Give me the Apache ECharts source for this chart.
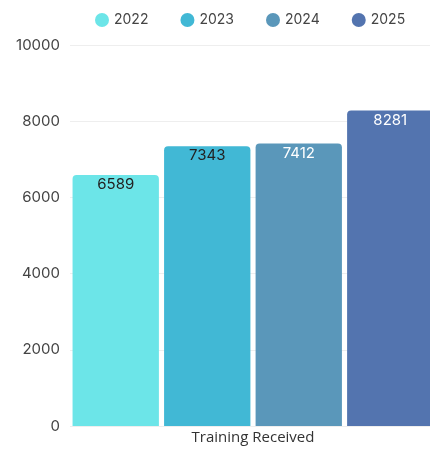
<!DOCTYPE html>
<html>
<head>
<meta charset="utf-8">
<script src="https://cdn.jsdelivr.net/npm/echarts@6/dist/echarts.min.js"></script>
<style>
  html, body { margin: 0; padding: 0; background: #fff; overflow: hidden; }
  #chart { width: 430px; height: 449px; }
</style>
</head>
<body>
<div id="chart"></div>
<script>
const categories = ['Training Received'];
const years = ['2022', '2023', '2024', '2025'];
const values2022 = [6589];
const values2023 = [7343];
const values2024 = [7412];
const values2025 = [8281];
const yTicks = [0, 2000, 4000, 6000, 8000, 10000];

const seriesValues = [values2022, values2023, values2024, values2025];
const colors = ['#6ce5e8', '#41b8d5', '#5a97ba', '#5374af'];
const labelColors = ['#222', '#222', '#fff', '#fff'];

const chart = echarts.init(document.getElementById('chart'));
chart.setOption({
  animation: false,
  color: colors,
  legend: {
    top: 8,
    left: 90,
    itemGap: 32,
    icon: 'circle',
    itemWidth: 14,
    itemHeight: 14,
    textStyle: { fontFamily: 'Inter', fontSize: 14, color: '#444' },
    data: years
  },
  grid: {
    left: 70,
    width: 366,
    top: 45,
    bottom: 23,
    containLabel: false,
    outerBoundsMode: 'none'
  },
  xAxis: {
    type: 'category',
    data: categories,
    axisLine: { show: false },
    axisTick: { show: false },
    axisLabel: { fontFamily: 'Open Sans', fontSize: 15, color: '#333', margin: 4 }
  },
  yAxis: {
    type: 'value',
    min: yTicks[0],
    max: yTicks[yTicks.length - 1],
    interval: 2000,
    axisLabel: {
      fontFamily: 'Inter',
      fontSize: 15,
      color: '#444',
      margin: 10,
      formatter: (v) => String(v)
    },
    splitLine: { lineStyle: { color: '#eeeeee' } }
  },
  series: years.map((y, i) => ({
    name: y,
    type: 'bar',
    data: seriesValues[i],
    barGap: '6%',
    barCategoryGap: '1.4%',
    itemStyle: { color: colors[i], borderRadius: [4, 4, 0, 0] },
    label: {
      show: true,
      position: 'insideTop',
      distance: 2,
      fontFamily: 'Inter',
      fontSize: 15,
      color: labelColors[i]
    }
  }))
});
</script>
</body>
</html>
